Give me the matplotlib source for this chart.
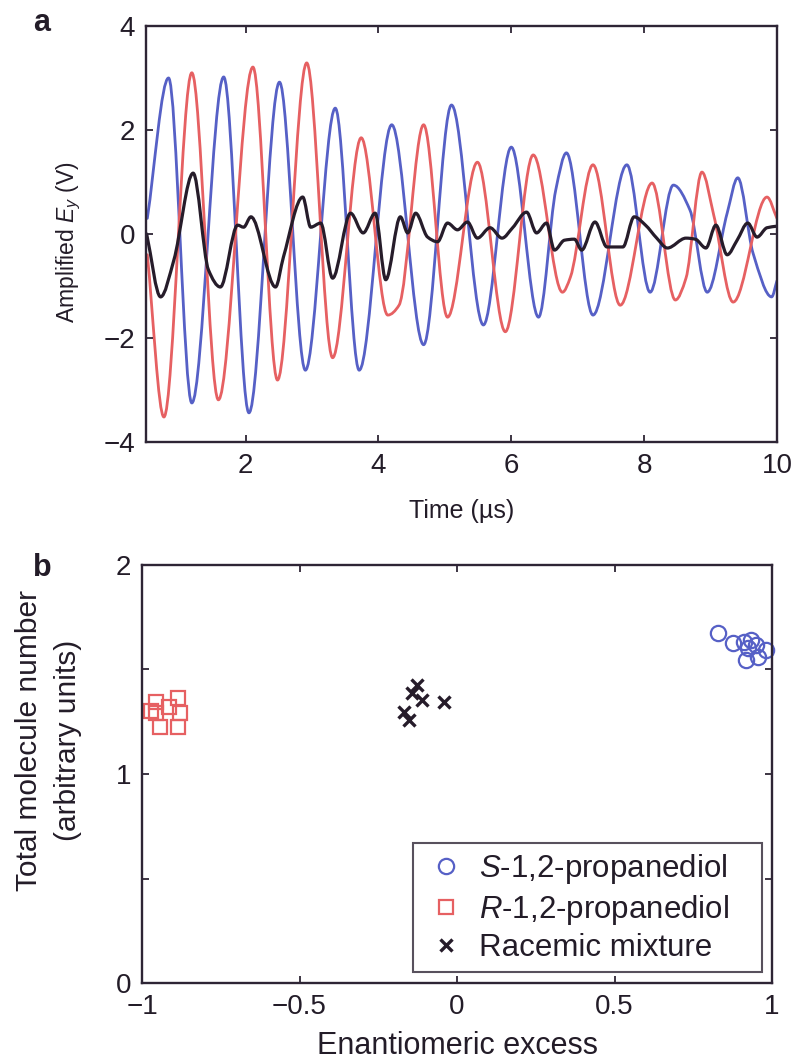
import numpy as np
import matplotlib
matplotlib.use("Agg")
import matplotlib.pyplot as plt
from matplotlib.path import Path
from matplotlib.patches import PathPatch

plt.rcParams['font.family'] = ['Liberation Sans', 'DejaVu Sans']
plt.rcParams['mathtext.fontset'] = 'custom'
plt.rcParams['mathtext.rm'] = 'Liberation Sans'
plt.rcParams['mathtext.it'] = 'Liberation Sans:italic'

# ---------------- Panel a data (key points) ----------------
blue_t = [0.52, 0.84, 1.19, 1.67, 2.05, 2.51, 2.90, 3.35, 3.71, 4.20, 4.68, 5.10, 5.58,
          6.00, 6.41, 6.67, 6.83, 7.23, 7.74, 8.09, 8.44, 8.69, 8.95, 9.25, 9.41, 9.64,
          9.92, 10.0]
blue_v = [0.30, 3.00, -3.25, 3.02, -3.44, 2.92, -2.62, 2.42, -2.62, 2.10, -2.13, 2.48, -1.75,
          1.67, -1.60, 0.85, 1.56, -1.56, 1.33, -1.12, 0.94, 0.46, -1.12, 0.40, 1.08, -0.37,
          -1.21, -0.90]

red_t = [0.52, 0.77, 1.19, 1.59, 2.11, 2.48, 2.92, 3.31, 3.74, 4.14, 4.31, 4.68, 5.04,
         5.49, 5.91, 6.33, 6.77, 6.89, 7.23, 7.64, 8.12, 8.47, 8.63, 8.87, 9.05, 9.34,
         9.85, 10.0]
red_v = [-0.40, -3.52, 3.10, -3.19, 3.21, -2.81, 3.29, -2.38, 1.85, -1.56, -1.37, 2.10, -1.60,
         1.38, -1.88, 1.52, -1.12, -0.83, 1.33, -1.37, 0.98, -1.27, -0.85, 1.19, 0.35, -1.31,
         0.71, 0.30]

black_t = [0.51, 0.72, 0.92, 1.21, 1.44, 1.62, 1.88, 1.97, 2.08, 2.45, 2.57, 2.86, 2.98,
           3.13, 3.31, 3.58, 3.77, 3.95, 4.11, 4.33, 4.44, 4.56, 4.74, 4.89, 5.04, 5.19,
           5.34, 5.49, 5.68, 5.86, 6.02, 6.23, 6.38, 6.53, 6.65, 6.80, 6.95, 7.06, 7.26,
           7.44, 7.68, 7.85, 8.02, 8.19, 8.35, 8.63, 8.77, 8.93, 9.08, 9.25, 9.40, 9.56,
           9.70, 9.85, 10.0]
black_v = [0.00, -1.21, -0.50, 1.17, -0.69, -1.02, 0.17, 0.13, 0.33, -1.02, -0.44, 0.71, 0.13,
           0.21, -0.85, 0.40, 0.02, 0.40, -0.88, 0.33, 0.02, 0.40, -0.06, -0.15, 0.21, 0.08,
           0.23, -0.08, 0.12, -0.08, 0.12, 0.42, 0.02, 0.21, -0.31, -0.12, -0.10, -0.31, 0.23,
           -0.25, -0.25, 0.33, 0.17, -0.08, -0.27, -0.08, -0.10, -0.27, 0.17, -0.40, -0.12, 0.21,
           -0.06, 0.12, 0.15]

# ---------------- Panel b data ----------------
s_ee = [0.829, 0.877, 0.911, 0.934, 0.924, 0.949, 0.918, 0.956, 0.981]
s_n = [1.675, 1.627, 1.632, 1.641, 1.603, 1.617, 1.545, 1.560, 1.593]
r_ee = [-0.956, -0.886, -0.880, -0.956, -0.943, -0.886, -0.972, -0.915]
r_n = [1.344, 1.364, 1.292, 1.292, 1.225, 1.225, 1.300, 1.320]
rac_ee = [-0.127, -0.142, -0.111, -0.041, -0.168, -0.152]
rac_n = [1.426, 1.388, 1.354, 1.344, 1.297, 1.258]

BLUE = '#5660c6'
RED = '#e66062'
BLACK = '#261c2a'
AX = '#2e2535'
TXT = '#231c28'


def smooth_path(t, v):
    """Cubic (monotone Hermite) Bezier path through the read key points."""
    t = np.asarray(t, float)
    v = np.asarray(v, float)
    h = np.diff(t)
    d = np.diff(v) / h
    m = np.zeros_like(v)
    m[0] = d[0]
    m[-1] = d[-1]
    for i in range(1, len(v) - 1):
        if d[i - 1] * d[i] > 0:
            m[i] = 2.0 / (1.0 / d[i - 1] + 1.0 / d[i])
    verts = [(t[0], v[0])]
    codes = [Path.MOVETO]
    for i in range(len(t) - 1):
        verts += [(t[i] + h[i] / 3, v[i] + m[i] * h[i] / 3),
                  (t[i + 1] - h[i] / 3, v[i + 1] - m[i + 1] * h[i] / 3),
                  (t[i + 1], v[i + 1])]
        codes += [Path.CURVE4] * 3
    return Path(verts, codes)


fig = plt.figure(figsize=(7.96, 10.64), dpi=100)
axa = fig.add_axes([0.1834, 0.5846, 0.7927, 0.391])
axb = fig.add_axes([0.1784, 0.0761, 0.7915, 0.3929])

for ax in (axa, axb):
    for sp in ax.spines.values():
        sp.set_linewidth(1.7)
        sp.set_color(AX)
    ax.tick_params(direction='in', top=True, right=True, length=5, width=1.3,
                   colors=AX, labelsize=20, pad=8, labelcolor=TXT)

for t, v, c in ((blue_t, blue_v, BLUE), (red_t, red_v, RED), (black_t, black_v, BLACK)):
    axa.add_patch(PathPatch(smooth_path(t, v), fill=False, edgecolor=c,
                            lw=2.0 if c != BLACK else 2.3, capstyle='round', joinstyle='round'))
axa.set_xlim(0.5, 10)
axa.set_ylim(-4, 4)
axa.set_xticks([2, 4, 6, 8, 10])
axa.set_yticks([-4, -2, 0, 2, 4])
axa.set_xlabel('Time (µs)', fontsize=18, color=TXT, labelpad=14)
axa.set_ylabel(r'Amplified $E_y$ (V)', fontsize=16.5, color=TXT)
axa.yaxis.set_label_coords(-0.1, 0.48)
fig.text(0.042, 0.978, 'a', fontsize=22, fontweight='bold', color=TXT, va='center')

axb.plot(s_ee, s_n, 'o', ls='none', mfc='none', mec=BLUE, ms=11, mew=1.6,
         label=r'$S$-1,2-propanediol', clip_on=False)
axb.plot(r_ee, r_n, 's', ls='none', mfc='none', mec=RED, ms=9.5, mew=1.6,
         label=r'$R$-1,2-propanediol', clip_on=False)
axb.plot(rac_ee, rac_n, 'x', ls='none', mec=BLACK, ms=8.5, mew=2.4,
         label='Racemic mixture')
axb.set_xlim(-1, 1)
axb.set_ylim(0, 2)
axb.set_xticks([-1, -0.5, 0, 0.5, 1])
axb.set_xticklabels(['\u22121', '\u22120.5', '0', '0.5', '1'])
axb.set_yticks([0, 0.5, 1, 1.5, 2])
axb.set_yticklabels(['0', '', '1', '', '2'])
axb.set_xlabel('Enantiomeric excess', fontsize=22, color=TXT, labelpad=8)
axb.set_ylabel('Total molecule number\n(arbitrary units)', fontsize=21.5,
               color=TXT, linespacing=1.5)
axb.yaxis.set_label_coords(-0.095, 0.58)
leg = axb.legend(loc='lower left', bbox_to_anchor=(0.43, 0.026, 0.554, 0.3),
                 mode='expand', borderaxespad=0.0,
                 fontsize=22.5, frameon=True, fancybox=False,
                 handletextpad=0.3, handlelength=1.5,
                 borderpad=0.3, labelspacing=0.2)
leg.get_frame().set_edgecolor(AX)
leg.get_frame().set_linewidth(1.5)
for txt in leg.get_texts():
    txt.set_color(TXT)
fig.text(0.042, 0.466, 'b', fontsize=22, fontweight='bold', color=TXT, va='center')

fig.savefig('out.png', dpi=100)
